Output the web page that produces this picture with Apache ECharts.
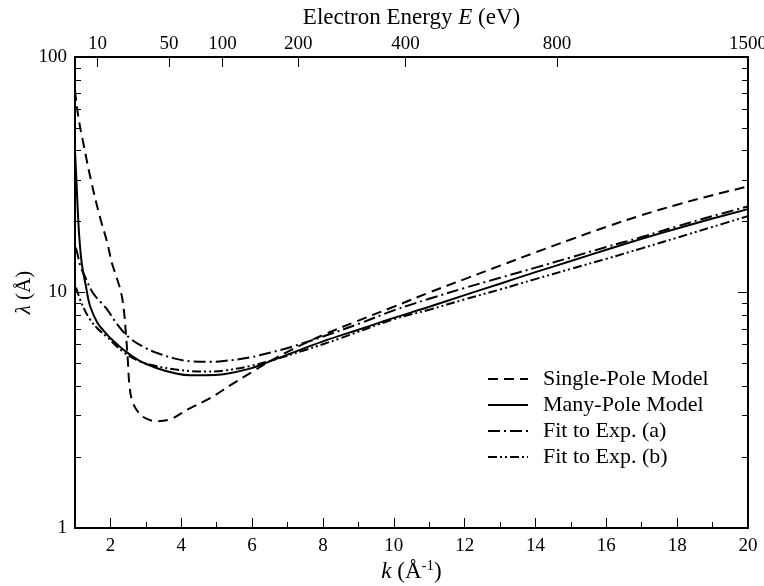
<!DOCTYPE html>
<html>
<head>
<meta charset="utf-8">
<script src="https://cdn.jsdelivr.net/npm/echarts@6/dist/echarts.min.js"></script>
<style>html,body{margin:0;padding:0;background:#fff}#c{width:764px;height:586px}</style>
</head>
<body>
<div id="c"></div>
<script>
// ---- data (k in 1/Å, λ in Å) ----
var kSingle   = [1.0, 1.1, 1.25, 1.45, 1.7, 1.9, 2.05, 2.15, 2.3, 2.38, 2.44, 2.49, 2.54, 2.62, 2.8, 3.0, 3.3, 3.7, 4.2, 4.8, 5.4, 6.0, 6.4, 7.0, 7.6, 8, 9, 10, 11, 12, 13, 14, 15, 16, 17, 18, 19, 20];
var lamSingle = [72, 55, 42, 30, 21, 16.5, 13.2, 11.9, 10.0, 8.4, 6.6, 5.2, 4.0, 3.45, 3.08, 2.92, 2.84, 2.9, 3.2, 3.55, 4.05, 4.6, 5.0, 5.6, 6.2, 6.6, 7.6, 8.7, 10.0, 11.4, 13.0, 14.8, 16.8, 19.0, 21.3, 23.6, 25.9, 28.2];

var kMany   = [1.0, 1.04, 1.08, 1.13, 1.2, 1.3, 1.42, 1.62, 1.8, 2.0, 2.36, 2.8, 3.3, 3.8, 4.25, 4.7, 5.2, 5.94, 6.5, 7.0, 8.0, 9.0, 10, 11, 12, 13, 14, 15, 16, 17, 18, 19, 20];
var lamMany = [40, 30, 22, 16.5, 13.0, 10.8, 8.8, 7.5, 6.9, 6.4, 5.73, 5.15, 4.78, 4.55, 4.45, 4.45, 4.5, 4.75, 5.1, 5.45, 6.2, 6.95, 7.8, 8.7, 9.75, 10.9, 12.2, 13.6, 15.2, 16.9, 18.7, 20.6, 22.6];

var kFitA   = [1.02, 1.06, 1.15, 1.28, 1.5, 1.75, 1.9, 2.2, 2.55, 3.0, 3.3, 3.8, 4.3, 4.8, 5.2, 5.94, 6.5, 7.15, 8.0, 9.05, 10, 11, 12, 13, 14, 15, 16, 17, 18, 19, 20];
var lamFitA = [15.5, 14.8, 13.0, 11.7, 10.0, 9.0, 8.5, 7.3, 6.4, 5.8, 5.55, 5.25, 5.1, 5.08, 5.12, 5.3, 5.55, 5.9, 6.5, 7.4, 8.4, 9.4, 10.45, 11.55, 12.75, 14.1, 15.6, 17.2, 19.1, 21.1, 23.2];

var kFitB   = [1.03, 1.2, 1.42, 1.65, 1.89, 2.36, 2.8, 3.3, 3.8, 4.25, 4.7, 5.2, 5.94, 6.5, 7.5, 8.5, 10, 11, 12, 13, 14, 15, 16, 17, 18, 19, 20];
var lamFitB = [10.5, 8.9, 7.7, 7.0, 6.5, 5.6, 5.12, 4.87, 4.72, 4.64, 4.62, 4.66, 4.87, 5.12, 5.7, 6.4, 7.7, 8.45, 9.35, 10.3, 11.4, 12.6, 13.9, 15.4, 17.1, 19.0, 21.1];

var seriesNames = ['Single-Pole Model', 'Many-Pole Model', 'Fit to Exp. (a)', 'Fit to Exp. (b)'];

// ---- ticks ----
var kMajorTicks = [2, 4, 6, 8, 10, 12, 14, 16, 18, 20];
var kMinorTicks = [3, 5, 7, 9, 11, 13, 15, 17, 19];
var energyTicks = [10, 50, 100, 200, 400, 800, 1500];   // eV, E = 3.75 k^2
var lamMajorTicks = [1, 10, 100];
var lamMinorTicks = [2, 3, 4, 5, 6, 7, 8, 9, 20, 30, 40, 50, 60, 70, 80, 90];

var E_PER_K2 = 3.75;
var kOfEnergy = energyTicks.map(function (e) { return Math.sqrt(e / E_PER_K2); });

function pairs(ks, ls) { return ks.map(function (k, i) { return [k, ls[i]]; }); }

var FONT = 'Liberation Serif';
var black = '#000';

var chart = echarts.init(document.getElementById('c'), null, { renderer: 'canvas' });

function xAx(opt) {
  return Object.assign({
    type: 'value', min: 1, max: 20, gridIndex: 0,
    splitLine: { show: false },
    axisLine: { show: false },
    axisLabel: { show: false },
    axisTick: { show: false },
    nameMoveOverlap: false
  }, opt);
}
function yAx(opt) {
  return Object.assign({
    type: 'log', logBase: 10, min: 1, max: 100, gridIndex: 0,
    splitLine: { show: false },
    axisLine: { show: false },
    axisLabel: { show: false },
    axisTick: { show: false },
    nameMoveOverlap: false
  }, opt);
}

var dashStyles = [
  [10, 6],
  null,
  [12, 4, 2, 4],
  [9, 3, 2, 3, 2, 3]
];

var option = {
  animation: false,
  backgroundColor: '#fff',
  textStyle: { fontFamily: FONT, color: black },
  grid: { left: 75, right: 16, top: 57, bottom: 58, containLabel: false, outerBoundsMode: 'none' },
  xAxis: [
    xAx({
      position: 'bottom',
      axisLine: { show: true, onZero: false, lineStyle: { color: black, width: 2 } },
      axisTick: { show: true, inside: true, length: 10, customValues: kMajorTicks, lineStyle: { color: black, width: 1 } },
      axisLabel: { show: true, customValues: kMajorTicks, fontFamily: FONT, fontSize: 19, color: black, margin: 9 },
      name: '{i|k} (Å{s|-1})',
      nameLocation: 'middle',
      nameGap: 31,
      nameTextStyle: {
        fontFamily: FONT, fontSize: 23, color: black,
        rich: {
          i: { fontFamily: FONT, fontStyle: 'italic', fontSize: 23 },
          s: { fontFamily: FONT, fontSize: 15, verticalAlign: 'top', padding: [0, 0, 11, 0] }
        }
      }
    }),
    xAx({
      position: 'bottom',
      axisTick: { show: true, inside: true, length: 6, customValues: kMinorTicks, lineStyle: { color: black, width: 1 } }
    }),
    xAx({
      position: 'top',
      axisLine: { show: true, onZero: false, lineStyle: { color: black, width: 2 } },
      axisTick: { show: true, inside: true, length: 10, customValues: kOfEnergy, lineStyle: { color: black, width: 1 } },
      axisLabel: {
        show: true, customValues: kOfEnergy, fontFamily: FONT, fontSize: 19, color: black, margin: 3,
        formatter: function (v) { return String(Math.round(E_PER_K2 * v * v)); }
      },
      name: 'Electron Energy {i|E} (eV)',
      nameLocation: 'middle',
      nameGap: 28,
      nameTextStyle: {
        fontFamily: FONT, fontSize: 23, color: black,
        rich: { i: { fontFamily: FONT, fontStyle: 'italic', fontSize: 23 } }
      }
    })
  ],
  yAxis: [
    yAx({
      position: 'left',
      axisLine: { show: true, onZero: false, lineStyle: { color: black, width: 2 } },
      axisTick: { show: true, inside: true, length: 10, customValues: lamMajorTicks, lineStyle: { color: black, width: 1 } },
      axisLabel: { show: true, customValues: lamMajorTicks, fontFamily: FONT, fontSize: 19, color: black, margin: 8 },
      name: '{i|λ} (Å)',
      nameLocation: 'middle',
      nameGap: 40,
      nameRotate: 90,
      nameTextStyle: {
        fontFamily: FONT, fontSize: 21, color: black,
        rich: { i: { fontFamily: FONT, fontStyle: 'italic', fontSize: 21 } }
      }
    }),
    yAx({
      position: 'left',
      axisTick: { show: true, inside: true, length: 6, customValues: lamMinorTicks, lineStyle: { color: black, width: 1 } }
    }),
    yAx({
      position: 'right',
      axisLine: { show: true, onZero: false, lineStyle: { color: black, width: 2 } },
      axisTick: { show: true, inside: true, length: 10, customValues: lamMajorTicks, lineStyle: { color: black, width: 1 } }
    }),
    yAx({
      position: 'right',
      axisTick: { show: true, inside: true, length: 6, customValues: lamMinorTicks, lineStyle: { color: black, width: 1 } }
    })
  ],
  legend: {
    show: true,
    orient: 'vertical',
    left: 482,
    top: 363,
    itemWidth: 40,
    itemHeight: 14,
    itemGap: 4,
    itemStyle: { opacity: 0 },
    textStyle: { fontFamily: FONT, fontSize: 22, color: black, lineHeight: 22, padding: [0, 0, 0, 10] },
    data: seriesNames
  },
  series: [
    pairs(kSingle, lamSingle), pairs(kMany, lamMany), pairs(kFitA, lamFitA), pairs(kFitB, lamFitB)
  ].map(function (d, i) {
    return {
      name: seriesNames[i],
      type: 'line',
      xAxisIndex: 0, yAxisIndex: 0,
      data: d,
      symbol: 'none',
      showSymbol: false,
      smooth: 0.4,
      clip: true,
      lineStyle: { color: black, width: 2, type: dashStyles[i] || 'solid' },
      itemStyle: { color: black }
    };
  })
};
chart.setOption(option);
</script>
</body>
</html>
